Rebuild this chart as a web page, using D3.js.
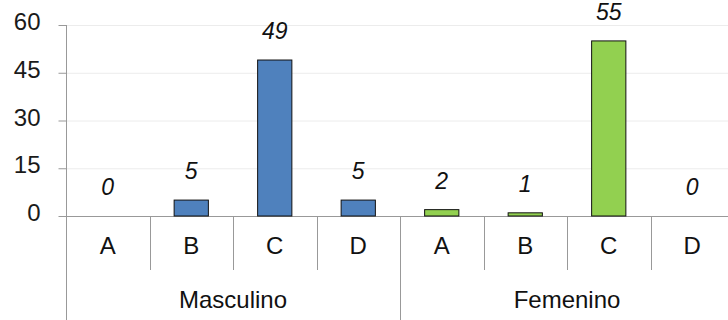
<!DOCTYPE html>
<html><head><meta charset="utf-8">
<script src="https://cdn.jsdelivr.net/npm/d3@7"></script>
<style>body{margin:0;background:#fff;}svg{display:block;font-family:"Liberation Sans",Arial,sans-serif;}</style>
</head><body><svg id="c" width="728" height="320"></svg>
<script>
const groups = ["Masculino", "Femenino"];
const categories = ["A", "B", "C", "D"];
const masculino = [0, 5, 49, 5];
const femenino = [2, 1, 55, 0];
const yTicks = [0, 15, 30, 45, 60];
const colors = ["#4f81bd", "#92d050"];

(function () {
const series = [masculino, femenino];
const rows = [];
groups.forEach((g, gi) => categories.forEach((c, ci) => rows.push({g, gi, c, key: g + "|" + c, v: series[gi][ci]})));

const svg = d3.select("#c");
const mLeft = 66, mRight = 734, mTop = 25, mBottom = 216;
const x = d3.scaleBand().domain(rows.map(d => d.key)).range([mLeft, mRight]).paddingInner(0).paddingOuter(0);
const y = d3.scaleLinear().domain([0, 60]).range([mBottom, mTop]);

// gridlines
svg.append("g").selectAll("line").data(yTicks.filter(t => t > 0)).join("line")
  .attr("x1", mLeft).attr("x2", 728).attr("y1", d => y(d) + 0.5).attr("y2", d => y(d) + 0.5)
  .attr("stroke", "#ececec").attr("stroke-width", 1);

// y axis
const yAxis = svg.append("g").attr("transform", `translate(${mLeft + 0.5},0)`)
  .call(d3.axisLeft(y).tickValues(yTicks).tickSize(8).tickPadding(18));
yAxis.attr("font-size", null).attr("font-family", null);
yAxis.select(".domain").attr("stroke", "#999").attr("d", `M0,${mTop}V320`);
yAxis.selectAll(".tick line").attr("stroke", "#999");
yAxis.selectAll(".tick text").attr("font-size", 24).attr("fill", "#1a1a1a").attr("dy", "0.19em");

// baseline
svg.append("line").attr("x1", mLeft).attr("x2", 728).attr("y1", mBottom + 0.5).attr("y2", mBottom + 0.5).attr("stroke", "#999");

// category dividers
const bw = x.bandwidth();
rows.forEach((d, i) => {
  if (i === 0) return;
  const xx = Math.round(x(d.key)) + 0.5;
  const outer = categories.indexOf(d.c) === 0;
  svg.append("line").attr("x1", xx).attr("x2", xx).attr("y1", mBottom).attr("y2", outer ? 320 : 270)
    .attr("stroke", "#999");
});

// bars
const barW = bw * 0.41;
svg.append("g").selectAll("rect").data(rows).join("rect")
  .attr("x", d => x(d.key) + (bw - barW) / 2)
  .attr("y", d => y(d.v))
  .attr("width", barW)
  .attr("height", d => y(0) - y(d.v))
  .attr("fill", d => colors[d.gi])
  .attr("stroke", d => d.v > 0 ? "#111" : "none").attr("stroke-width", 1);

// value labels
svg.append("g").selectAll("text").data(rows).join("text")
  .attr("x", d => x(d.key) + bw / 2)
  .attr("y", d => y(d.v) - 21)
  .attr("text-anchor", "middle").attr("font-size", 23).attr("font-style", "italic").attr("fill", "#111")
  .text(d => d.v);

// category labels
svg.append("g").selectAll("text").data(rows).join("text")
  .attr("x", d => x(d.key) + bw / 2).attr("y", 254)
  .attr("text-anchor", "middle").attr("font-size", 24).attr("fill", "#111").text(d => d.c);

// group labels
groups.forEach((g) => {
  const first = x(g + "|" + categories[0]);
  const last = x(g + "|" + categories[categories.length - 1]) + bw;
  svg.append("text").attr("x", (first + last) / 2 + 0).attr("y", 308).attr("text-anchor", "middle")
    .attr("font-size", 24).attr("fill", "#111").text(g);
});
})();
</script></body></html>
